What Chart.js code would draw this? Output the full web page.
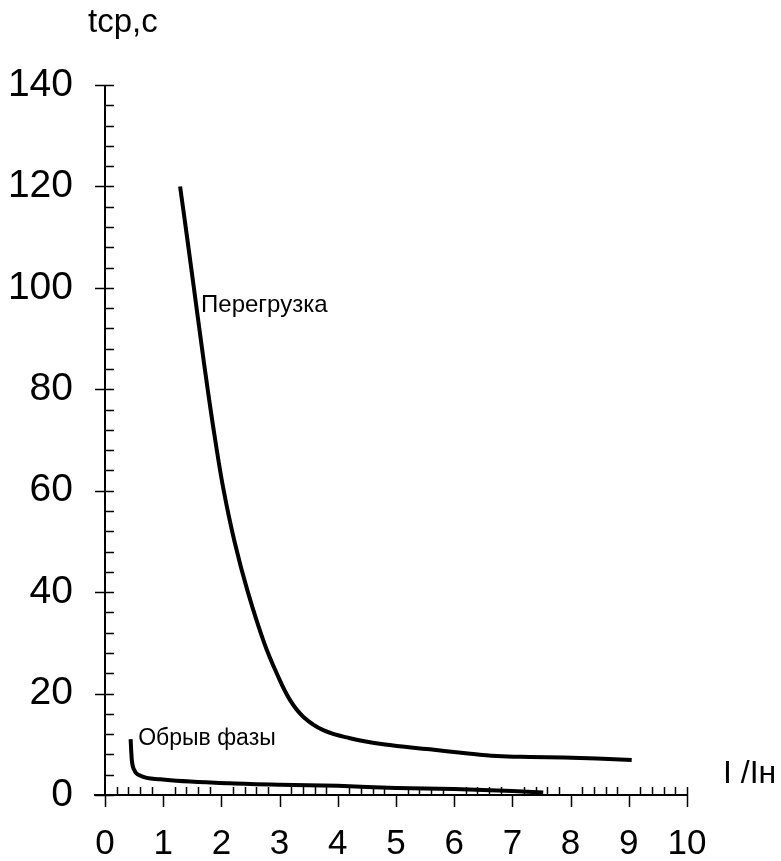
<!DOCTYPE html>
<html>
<head>
<meta charset="utf-8">
<script src="https://cdn.jsdelivr.net/npm/chart.js@4.4.1/dist/chart.umd.min.js"></script>
<style>
  html, body { margin: 0; padding: 0; background: #fff; }
  #wrap { width: 781px; height: 861px; }
</style>
</head>
<body>
<div id="wrap"><canvas id="chart" width="781" height="861"></canvas></div>
<script>
// I/In vs trip time
const overloadX = [1.29, 1.41, 1.527, 1.644, 1.764, 1.894, 2.04, 2.225, 2.455, 2.735, 2.95, 3.18, 3.41, 3.75, 4.21, 4.78, 5.58, 6.16, 6.73, 7.3, 7.88, 8.45, 9.05];
const overloadY = [120, 110, 100, 90, 80, 70, 60, 50, 40, 30, 24, 18.7, 15.4, 12.8, 11.2, 10, 9, 8.3, 7.7, 7.5, 7.4, 7.2, 6.9];

const phaseX = [0.44, 0.46, 0.5, 0.61, 0.95, 2.15, 3, 4, 5, 6, 7, 7.53];
const phaseY = [11, 7, 5, 3.8, 3.1, 2.3, 2.0, 1.8, 1.4, 1.2, 0.8, 0.5];

const xTicks = [0, 1, 2, 3, 4, 5, 6, 7, 8, 9, 10];
const yTicks = [0, 20, 40, 60, 80, 100, 120, 140];

const FONT = '"Liberation Sans", Arial, sans-serif';

function points(xs, ys) {
    return xs.map((x, i) => ({ x: x, y: ys[i] }));
}

// axes, minor ticks and the text labels
const axesPlugin = {
    id: 'axesPlugin',
    afterDraw(chart) {
        const ctx = chart.ctx;
        const x = chart.scales.x;
        const y = chart.scales.y;
        const left = x.getPixelForValue(0);
        const bottom = y.getPixelForValue(0);
        ctx.save();
        ctx.strokeStyle = '#000';
        ctx.lineWidth = 2;
        ctx.beginPath();
        ctx.moveTo(left, y.getPixelForValue(140));
        ctx.lineTo(left, bottom);
        ctx.moveTo(left - 11, bottom);
        ctx.lineTo(x.getPixelForValue(10), bottom);
        ctx.stroke();

        ctx.lineWidth = 1.5;
        ctx.beginPath();
        for (let v = 0; v <= 140; v += 4) {
            const py = Math.round(y.getPixelForValue(v)) + 0.5;
            ctx.moveTo(v % 20 === 0 ? left - 10 : left, py);
            ctx.lineTo(left + 9, py);
        }
        for (let i = 0; i <= 50; i++) {
            const px = Math.round(x.getPixelForValue(i / 5)) + 0.5;
            if (i % 5 === 0) {
                ctx.moveTo(px, i === 50 ? bottom - 8 : bottom);
                ctx.lineTo(px, bottom + 12);
            } else {
                ctx.moveTo(px, bottom - 8);
                ctx.lineTo(px, bottom);
            }
        }
        ctx.stroke();

        ctx.fillStyle = '#000';
        ctx.textAlign = 'left';
        ctx.textBaseline = 'alphabetic';
        ctx.font = '33px ' + FONT;
        ctx.fillText('tcp,c', 88, 32);

        ctx.textBaseline = 'middle';
        ctx.font = '32px ' + FONT;
        ctx.fillText('I /Iн', 723, 774);

        ctx.font = '24px ' + FONT;
        ctx.fillText('Перегрузка', x.getPixelForValue(1.65), y.getPixelForValue(96.6));
        ctx.font = '23px ' + FONT;
        ctx.fillText('Обрыв фазы', x.getPixelForValue(0.57), y.getPixelForValue(11.2));
        ctx.restore();
    }
};

const data = {
    datasets: [
        {
            label: 'Перегрузка',
            data: points(overloadX, overloadY),
            borderColor: '#000',
            borderWidth: 4,
            pointRadius: 0,
            tension: 0.4,
            showLine: true
        },
        {
            label: 'Обрыв фазы',
            data: points(phaseX, phaseY),
            borderColor: '#000',
            borderWidth: 4,
            pointRadius: 0,
            cubicInterpolationMode: 'monotone',
            showLine: true
        }
    ]
};

const config = {
    type: 'scatter',
    data: data,
    options: {
        responsive: false,
        animation: false,
        layout: { padding: { top: 85, right: 94, bottom: 0, left: 0 } },
        plugins: {
            legend: { display: false },
            tooltip: { enabled: false }
        },
        scales: {
            x: {
                type: 'linear',
                min: 0,
                max: 10,
                grid: { display: false, drawTicks: false },
                border: { display: false },
                afterBuildTicks(scale) { scale.ticks = xTicks.map(v => ({ value: v })); },
                afterFit(scale) {
                    scale.height = 66;
                    scale.paddingLeft = 0;
                    scale.paddingRight = 0;
                },
                ticks: {
                    color: '#000',
                    padding: 28,
                    maxRotation: 0,
                    autoSkip: false,
                    font: { size: 35, family: FONT }
                }
            },
            y: {
                type: 'linear',
                min: 0,
                max: 140,
                grid: { display: false, drawTicks: false },
                border: { display: false },
                afterBuildTicks(scale) { scale.ticks = yTicks.map(v => ({ value: v })); },
                afterFit(scale) {
                    scale.width = 105;
                    scale.paddingTop = 0;
                    scale.paddingBottom = 0;
                },
                ticks: {
                    color: '#000',
                    padding: 32,
                    font: { size: 39, family: FONT }
                }
            }
        }
    },
    plugins: [axesPlugin]
};

var chart = new Chart(document.getElementById('chart'), config);
</script>
</body>
</html>
